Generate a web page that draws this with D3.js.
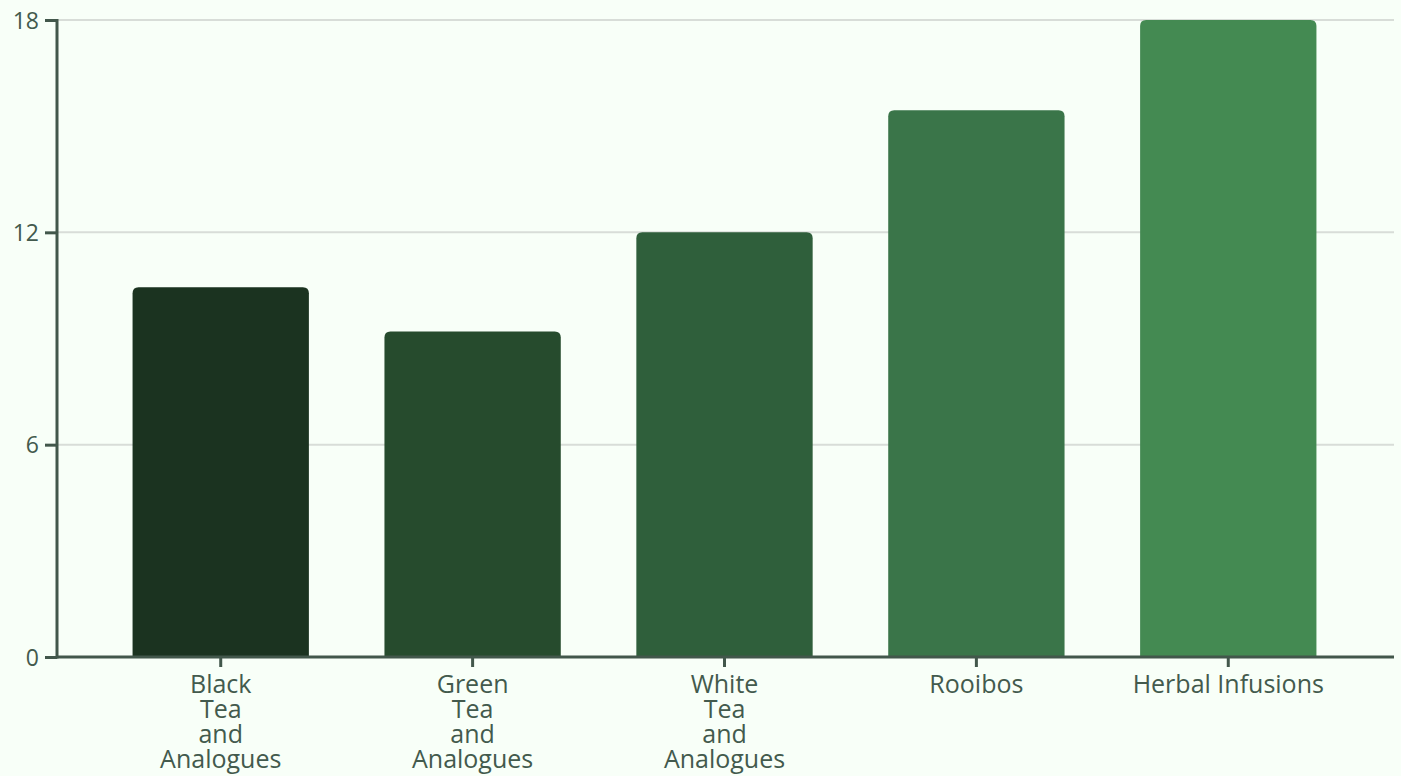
<!DOCTYPE html>
<html>
<head>
<meta charset="utf-8">
<script src="https://cdn.jsdelivr.net/npm/d3@7"></script>
<style>
  html, body { margin: 0; padding: 0; background: #f8fff8; }
  svg { display: block; font-family: "Open Sans", sans-serif; }
</style>
</head>
<body>
<div id="chart"></div>
<script>
// chart data
var categories = ["Black Tea and Analogues", "Green Tea and Analogues", "White Tea and Analogues", "Rooibos", "Herbal Infusions"];
var values = [10.45, 9.2, 12, 15.45, 18];
var yTicks = [0, 6, 12, 18];
var colors = ["#1b3320", "#264b2d", "#2f5f3b", "#3a7549", "#448a52"];

var W = 1401, H = 776;
var margin = {top: 20, right: 7, bottom: 119, left: 57};
var width = W - margin.left - margin.right,
    height = H - margin.top - margin.bottom;

var svg = d3.select("#chart").append("svg")
    .attr("width", W)
    .attr("height", H)
  .append("g")
    .attr("transform", "translate(" + margin.left + "," + margin.top + ")");

var x = d3.scaleBand()
  .domain(categories)
  .range([0, width - 2])
  .paddingInner(0.3)
  .paddingOuter(0.3);

var y = d3.scaleLinear()
  .domain([0, 18])
  .range([height, 0]);

// grid lines
svg.append("g")
  .selectAll("line")
  .data(yTicks.filter(function(d) { return d > 0; }))
  .enter().append("line")
    .attr("x1", 0)
    .attr("x2", width)
    .attr("y1", function(d) { return y(d); })
    .attr("y2", function(d) { return y(d); })
    .attr("stroke", "#d8ddd8")
    .attr("stroke-width", 2);

// bars with rounded tops
var r = 6;
svg.append("g")
  .selectAll("path")
  .data(categories)
  .enter().append("path")
    .attr("fill", function(d, i) { return colors[i]; })
    .attr("d", function(d, i) {
      var x0 = x(d), x1 = x(d) + x.bandwidth(), y0 = y(values[i]), yb = y(0);
      return "M" + x0 + "," + yb +
             "V" + (y0 + r) +
             "Q" + x0 + "," + y0 + " " + (x0 + r) + "," + y0 +
             "H" + (x1 - r) +
             "Q" + x1 + "," + y0 + " " + x1 + "," + (y0 + r) +
             "V" + yb + "Z";
    });

var axisColor = "#42574b";
var font = "'Open Sans', sans-serif";

// y axis
var yAxis = svg.append("g")
  .call(d3.axisLeft(y).tickValues(yTicks).tickSize(12).tickPadding(6).tickFormat(d3.format("d")))
  .attr("font-family", font);
yAxis.select(".domain").attr("stroke", axisColor).attr("stroke-width", 3).attr("d", "M0," + (height + 1.5) + "V-1");
yAxis.selectAll(".tick line").attr("stroke", axisColor).attr("stroke-width", 3);
yAxis.selectAll(".tick text")
  .attr("fill", "#435a4d")
  .style("font-size", "23px")
  .attr("dy", "0.35em");

// x axis
var xAxis = svg.append("g")
  .attr("transform", "translate(0," + height + ")")
  .call(d3.axisBottom(x).tickSize(10).tickPadding(8))
  .attr("font-family", font);
xAxis.select(".domain").attr("stroke", axisColor).attr("stroke-width", 3).attr("d", "M0,0H" + width);
xAxis.selectAll(".tick line").attr("stroke", axisColor).attr("stroke-width", 3);
xAxis.selectAll(".tick text")
  .attr("fill", "#435a4d")
  .style("font-size", "25px")
  .each(function(d) {
    var t = d3.select(this);
    var words = d.indexOf("Tea") >= 0 ? d.split(" ") : [d];
    t.text(null);
    words.forEach(function(w, k) {
      t.append("tspan")
        .attr("x", 0)
        .attr("dy", k === 0 ? "0.71em" : "1em")
        .text(w);
    });
  });
</script>
</body>
</html>
